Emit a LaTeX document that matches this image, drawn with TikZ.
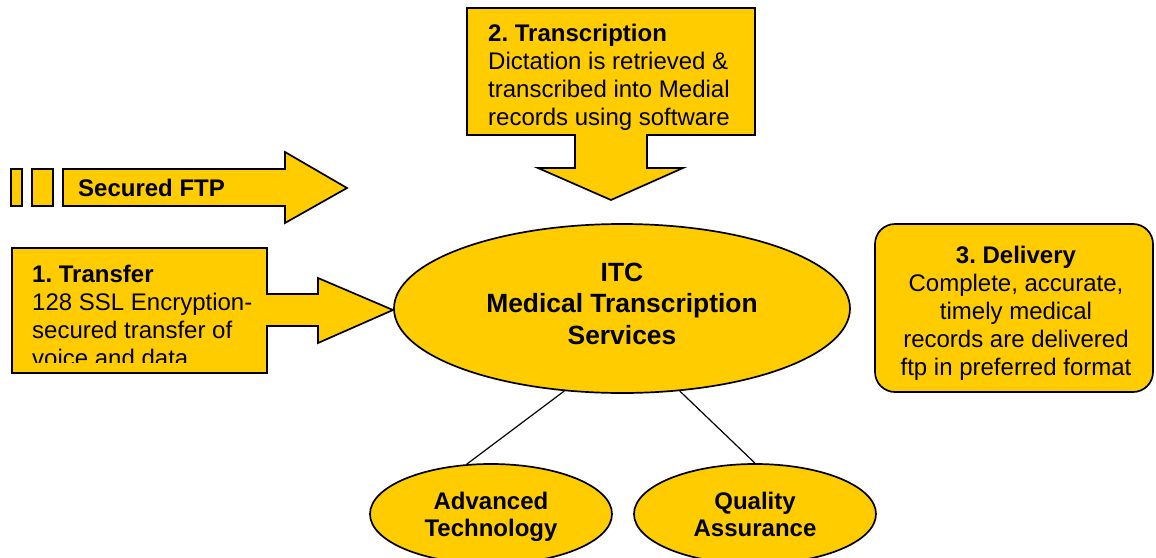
\documentclass[tikz,border=0pt]{standalone}
\usepackage{fontspec}
\setmainfont{Liberation Sans}
\usetikzlibrary{shapes.geometric}
\definecolor{mtyellow}{HTML}{FFCC00}
\frenchspacing
\begin{document}
\begin{tikzpicture}[x=1pt,y=-1pt,
  shapefill/.style={fill=mtyellow,draw=black,line width=1.7pt,line join=miter},
  bodytext/.style={font=\fontsize{24}{28}\selectfont,inner sep=0pt},
  bubble/.style={ellipse,shapefill,inner sep=0pt},
  bubbletext/.style={inner sep=0pt,align=center,font=\bfseries\fontsize{24}{27}\selectfont},
  link/.style={draw=black,line width=1.2pt}
]
\useasboundingbox (0,0) rectangle (1156,557);

% Secured FTP striped arrow
\path[shapefill] (11,169) rectangle (22,206);
\path[shapefill] (32,169) rectangle (53,206);
\path[shapefill] (63,169) -- (285,169) -- (285,152) -- (347,188) -- (285,223) -- (285,206) -- (63,206) -- cycle;
\node[bodytext,anchor=base west] (ftp) at (78,196.6) {\textbf{Secured FTP}};

% 1. Transfer callout
\path[shapefill] (12,248) -- (267,248) -- (267,294) -- (318,294) -- (318,278) -- (393,310) -- (318,343) -- (318,326) -- (267,326) -- (267,373) -- (12,373) -- cycle;
\begin{scope}
\clip (12,248) rectangle (267,362);
\node[bodytext,anchor=north west,align=left] (transfer) at (32,264.5)
  {\textbf{1. Transfer}\\128 SSL Encryption-\\secured transfer of\\voice and data};
\end{scope}

% 2. Transcription callout
\path[shapefill] (467,8) -- (755,8) -- (755,135) -- (647,135) -- (647,168) -- (683,168) -- (611,200) -- (538,168) -- (575,168) -- (575,135) -- (467,135) -- cycle;
\node[bodytext,anchor=north west,align=left] (transcription) at (488,24.4)
  {\textbf{2. Transcription}\\Dictation is retrieved \&\\transcribed into Medial\\records using software};

% 3. Delivery
\node[shapefill,rounded corners=20pt,minimum width=278pt,minimum height=168pt,inner sep=0pt] (deliverybox) at (1014,308) {};
\node[bodytext,anchor=north,align=center] (delivery) at (1016,246)
  {\textbf{3. Delivery}\\Complete, accurate,\\timely medical\\records are delivered\\ftp in preferred format};

% central ellipse
\node[bubble,minimum width=456pt,minimum height=169pt] (main) at (622,308.5) {};
\node[bubbletext,font=\bfseries\fontsize{26.4}{31.5}\selectfont] (mainlbl) at (622,303.5)
  {ITC\\Medical Transcription\\Services};

% bottom ellipses
\node[bubble,minimum width=242pt,minimum height=100pt] (adv) at (491,514) {};
\node[bubbletext] (advlbl) at (491,517) {Advanced\\Technology};
\node[bubble,minimum width=242pt,minimum height=100pt] (qa) at (755,514) {};
\node[bubbletext] (qalbl) at (755,514.5) {Quality\\Assurance};

\draw[link] (main.235) -- (adv.116);
\draw[link] (main.305) -- (qa.90);
\end{tikzpicture}
\end{document}
